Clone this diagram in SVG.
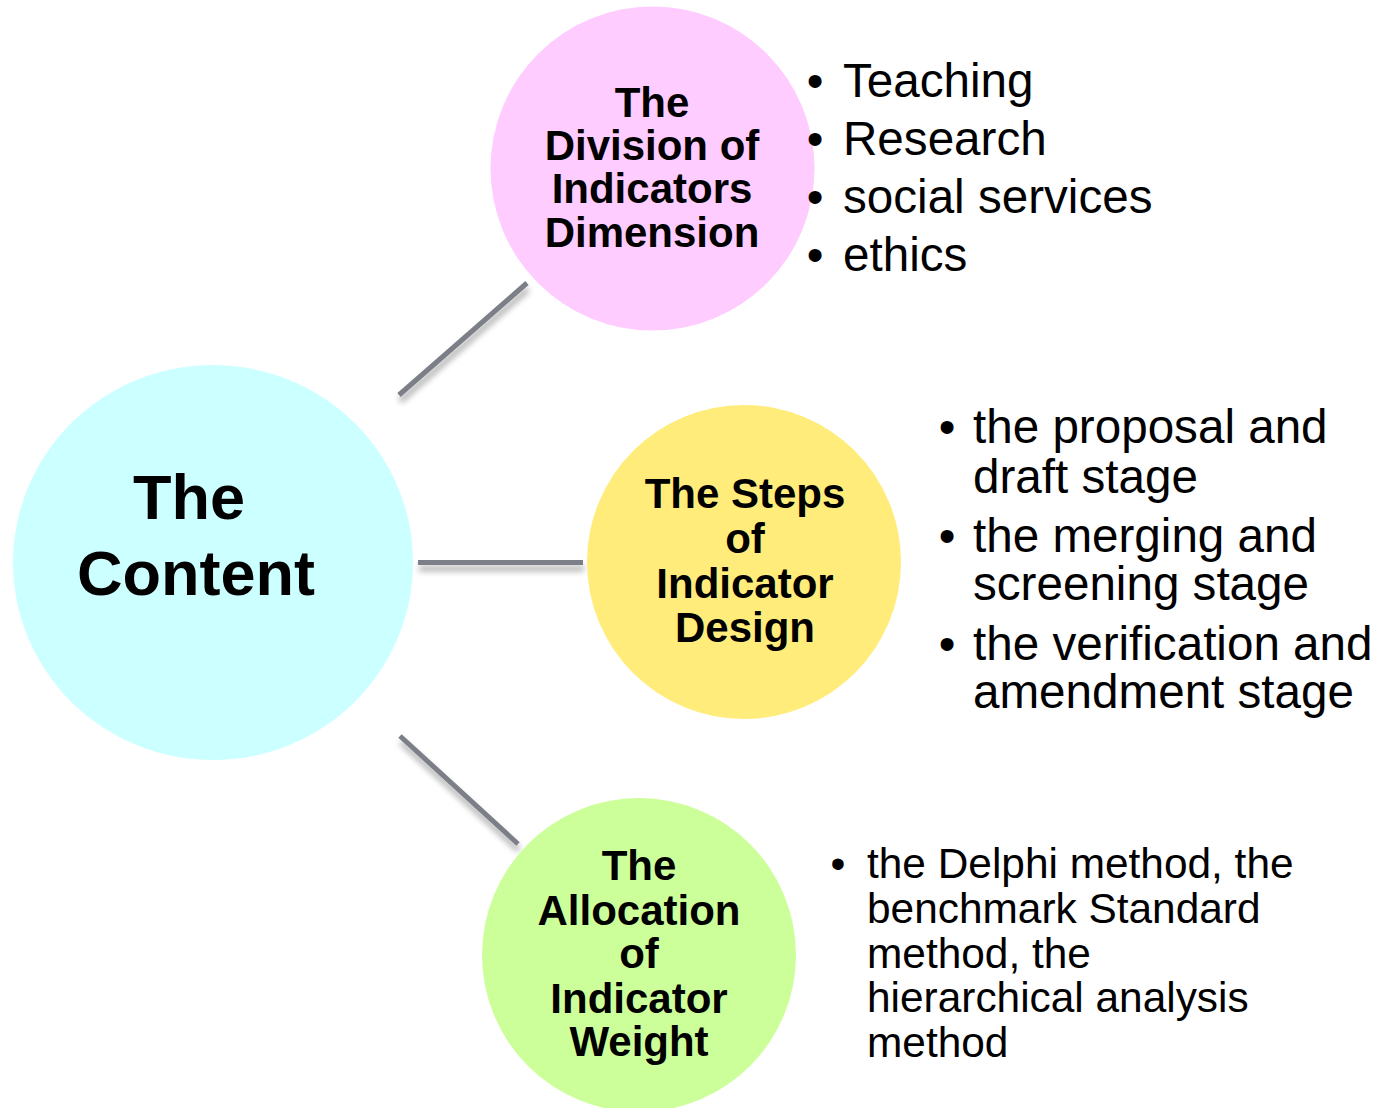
<svg xmlns="http://www.w3.org/2000/svg" width="1379" height="1108" viewBox="0 0 1379 1108">
<defs>
<filter id="shadow" filterUnits="userSpaceOnUse" x="0" y="0" width="1379" height="1108">
<feGaussianBlur in="SourceAlpha" stdDeviation="3"/>
<feOffset dx="1" dy="6" result="b"/>
<feComponentTransfer><feFuncA type="linear" slope="0.35"/></feComponentTransfer>
<feMerge><feMergeNode/><feMergeNode in="SourceGraphic"/></feMerge>
</filter>
</defs>
<style>
.node { font-family: "Liberation Sans", Arial, sans-serif; font-weight: bold; fill: #000; text-anchor: middle; }
.bul { font-family: "Liberation Sans", Arial, sans-serif; fill: #000; }
.dot { text-anchor: middle; }
.conn { stroke: #7b7f87; stroke-width: 5; fill: none; filter: url(#shadow); }
</style>
<rect width="1379" height="1108" fill="#ffffff"/>
<g id="connectors">
<line class="conn" x1="399" y1="395" x2="527" y2="283"/>
<line class="conn" x1="418" y1="562.5" x2="583" y2="562.5"/>
<line class="conn" x1="400" y1="736" x2="518" y2="844"/>
</g>
<g id="node-content">
<ellipse cx="213" cy="562.5" rx="200" ry="197.5" fill="#ccffff"/>
<text class="node" style="text-anchor:start" font-size="63" x="133" y="519">The</text>
<text class="node" style="text-anchor:start" font-size="63" x="77" y="595">Content</text>
</g>
<g id="node-division">
<circle cx="652.5" cy="168.5" r="162" fill="#ffccff"/>
<text class="node" font-size="42" x="652" y="117">The</text>
<text class="node" font-size="42" x="652" y="160">Division of</text>
<text class="node" font-size="42" x="652" y="203">Indicators</text>
<text class="node" font-size="42" x="652" y="247">Dimension</text>
</g>
<g id="node-steps">
<circle cx="744" cy="562" r="157" fill="#ffec7b"/>
<text class="node" font-size="42" x="745" y="508">The Steps</text>
<text class="node" font-size="42" x="745" y="553">of</text>
<text class="node" font-size="42" x="745" y="598">Indicator</text>
<text class="node" font-size="42" x="745" y="642">Design</text>
</g>
<g id="node-allocation">
<circle cx="639" cy="955" r="157" fill="#ccff99"/>
<text class="node" font-size="42" x="639" y="880">The</text>
<text class="node" font-size="42" x="639" y="925">Allocation</text>
<text class="node" font-size="42" x="639" y="968">of</text>
<text class="node" font-size="42" x="639" y="1013">Indicator</text>
<text class="node" font-size="42" x="639" y="1056">Weight</text>
</g>
<g id="list-division" class="bul" font-size="47.6">
<text class="dot" x="815" y="97">•</text>
<text x="843" y="97">Teaching</text>
<text class="dot" x="815" y="155">•</text>
<text x="843" y="155">Research</text>
<text class="dot" x="815" y="213">•</text>
<text x="843" y="213">social services</text>
<text class="dot" x="815" y="271">•</text>
<text x="843" y="271">ethics</text>
</g>
<g id="list-steps" class="bul" font-size="47.6">
<text class="dot" x="947" y="443">•</text>
<text x="973" y="443">the proposal and</text>
<text x="973" y="493">draft stage</text>
<text class="dot" x="947" y="552">•</text>
<text x="973" y="552">the merging and</text>
<text x="973" y="600">screening stage</text>
<text class="dot" x="947" y="660">•</text>
<text x="973" y="660">the verification and</text>
<text x="973" y="708">amendment stage</text>
</g>
<g id="list-allocation" class="bul" font-size="42.4">
<text class="dot" x="838" y="878">•</text>
<text x="867" y="878">the Delphi method, the</text>
<text x="867" y="923">benchmark Standard</text>
<text x="867" y="968">method, the</text>
<text x="867" y="1012">hierarchical analysis</text>
<text x="867" y="1057">method</text>
</g>
</svg>
